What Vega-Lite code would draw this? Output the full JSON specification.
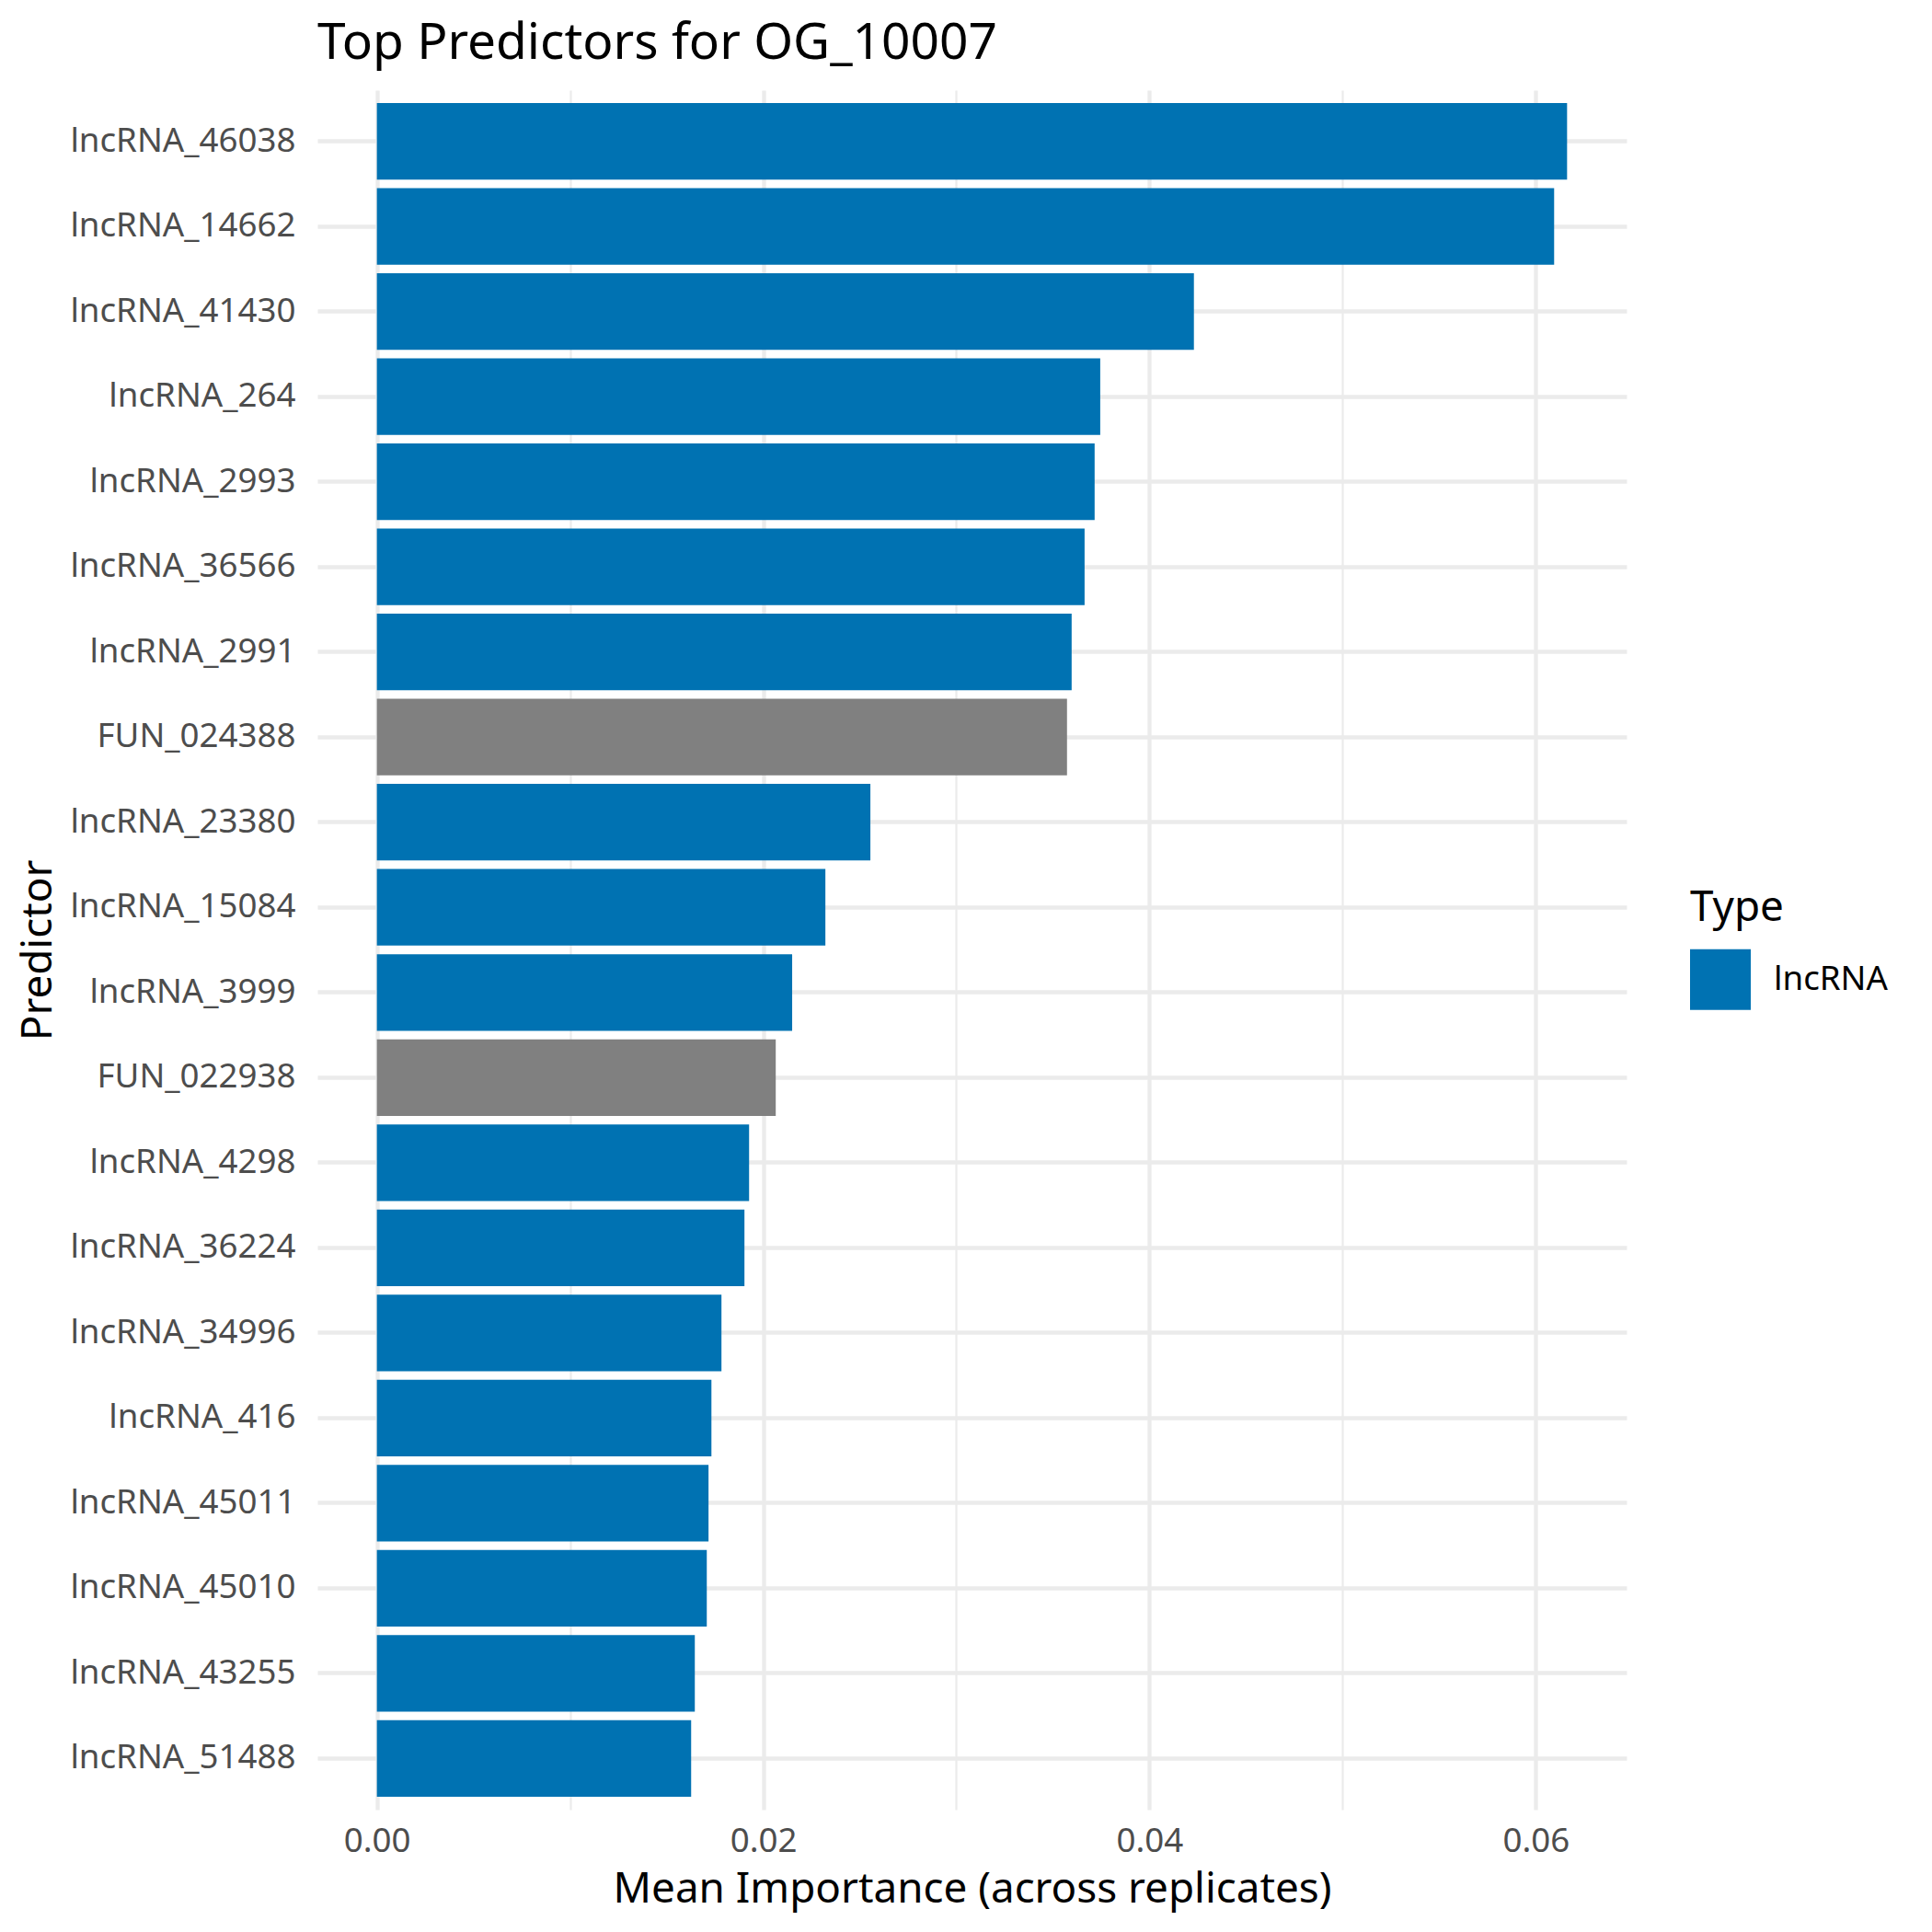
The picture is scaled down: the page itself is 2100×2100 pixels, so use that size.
{
  "$schema": "https://vega.github.io/schema/vega-lite/v6.json",
  "width": 1423,
  "height": 1869,
  "autosize": {"type": "none"},
  "padding": {"left": 345, "top": 98, "right": 332, "bottom": 133},
  "background": "white",
  "config": {
    "font": "Noto Sans",
    "view": {"stroke": null}
  },
  "title": {
    "text": "Top Predictors for OG_10007",
    "anchor": "start",
    "frame": "group",
    "fontSize": 55,
    "fontWeight": "normal",
    "color": "#000000",
    "baseline": "alphabetic",
    "offset": -21
  },
  "data": {
    "values": [
      {"Predictor": "lncRNA_46038", "Importance": 0.06162, "Type": "lncRNA"},
      {"Predictor": "lncRNA_14662", "Importance": 0.06095, "Type": "lncRNA"},
      {"Predictor": "lncRNA_41430", "Importance": 0.04230, "Type": "lncRNA"},
      {"Predictor": "lncRNA_264", "Importance": 0.03745, "Type": "lncRNA"},
      {"Predictor": "lncRNA_2993", "Importance": 0.03716, "Type": "lncRNA"},
      {"Predictor": "lncRNA_36566", "Importance": 0.03664, "Type": "lncRNA"},
      {"Predictor": "lncRNA_2991", "Importance": 0.03597, "Type": "lncRNA"},
      {"Predictor": "FUN_024388", "Importance": 0.03573, "Type": "NA"},
      {"Predictor": "lncRNA_23380", "Importance": 0.02555, "Type": "lncRNA"},
      {"Predictor": "lncRNA_15084", "Importance": 0.02322, "Type": "lncRNA"},
      {"Predictor": "lncRNA_3999", "Importance": 0.02150, "Type": "lncRNA"},
      {"Predictor": "FUN_022938", "Importance": 0.02065, "Type": "NA"},
      {"Predictor": "lncRNA_4298", "Importance": 0.01927, "Type": "lncRNA"},
      {"Predictor": "lncRNA_36224", "Importance": 0.01903, "Type": "lncRNA"},
      {"Predictor": "lncRNA_34996", "Importance": 0.01784, "Type": "lncRNA"},
      {"Predictor": "lncRNA_416", "Importance": 0.01732, "Type": "lncRNA"},
      {"Predictor": "lncRNA_45011", "Importance": 0.01717, "Type": "lncRNA"},
      {"Predictor": "lncRNA_45010", "Importance": 0.01708, "Type": "lncRNA"},
      {"Predictor": "lncRNA_43255", "Importance": 0.01646, "Type": "lncRNA"},
      {"Predictor": "lncRNA_51488", "Importance": 0.01627, "Type": "lncRNA"}
    ]
  },
  "mark": {"type": "bar", "opacity": 1},
  "encoding": {
    "y": {
      "field": "Predictor",
      "type": "nominal",
      "sort": "-x",
      "scale": {"paddingInner": 0.1, "paddingOuter": 0.15},
      "axis": {
        "title": "Predictor",
        "titleFontSize": 45.8,
        "titleFontWeight": "normal",
        "titleColor": "#000000",
        "titleBaseline": "alphabetic",
        "titleAngle": 270,
        "titleX": -290,
        "titleY": 934.5,
        "titleAlign": "center",
        "labelFontSize": 36.7,
        "labelColor": "#4D4D4D",
        "labelPadding": 24,
        "labelBaseline": "middle",
        "labelLimit": 0,
        "ticks": false,
        "tickSize": 0,
        "domain": false,
        "grid": true,
        "bandPosition": 0.5,
        "gridColor": "#EBEBEB",
        "gridWidth": 4.3
      }
    },
    "x": {
      "field": "Importance",
      "type": "quantitative",
      "scale": {"domain": [-0.00308, 0.0647], "nice": false, "zero": false},
      "axis": {
        "title": "Mean Importance (across replicates)",
        "titleFontSize": 45.8,
        "titleFontWeight": "normal",
        "titleColor": "#000000",
        "titleBaseline": "alphabetic",
        "titleY": 100,
        "values": [0, 0.01, 0.02, 0.03, 0.04, 0.05, 0.06],
        "labelExpr": "round(datum.value*100) % 2 == 0 ? format(datum.value, '.2f') : ''",
        "labelFontSize": 36.7,
        "labelColor": "#4D4D4D",
        "labelBaseline": "alphabetic",
        "labelPadding": 45,
        "labelOverlap": false,
        "ticks": false,
        "tickSize": 0,
        "domain": false,
        "grid": true,
        "gridColor": "#EBEBEB",
        "gridWidth": {"expr": "round(datum.value*100) % 2 == 0 ? 4.3 : 2.2"}
      }
    },
    "x2": {"datum": 0},
    "color": {
      "field": "Type",
      "type": "nominal",
      "scale": {"domain": ["lncRNA", "NA"], "range": ["#0072B2", "#808080"]},
      "legend": {
        "title": "Type",
        "values": ["lncRNA"],
        "orient": "none",
        "legendX": 1492,
        "legendY": 867,
        "padding": 0,
        "titleFontSize": 45.8,
        "titleFontWeight": "normal",
        "titleColor": "#000000",
        "titlePadding": 21,
        "labelFontSize": 36.7,
        "labelColor": "#000000",
        "labelOffset": 25,
        "symbolType": "square",
        "symbolSize": 4356,
        "symbolStrokeWidth": 0,
        "symbolOpacity": 1
      }
    }
  }
}
